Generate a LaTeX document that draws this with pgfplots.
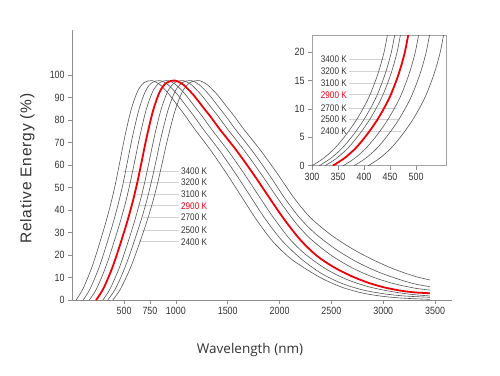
\documentclass[border=0pt]{standalone}
\usepackage{fontspec}
\setmainfont{Open Sans}
\newfontfamily\narrow[FakeStretch=0.85]{Liberation Sans}
\newfontfamily\ylabfont[LetterSpace=5]{Liberation Sans}
\usepackage{pgfplots}
\pgfplotsset{compat=1.18}
\definecolor{crv}{HTML}{555555}
\definecolor{axc}{HTML}{8C8C8C}
\definecolor{ldr}{HTML}{D2D2D2}
\definecolor{txt}{HTML}{333333}
\definecolor{myred}{HTML}{E8000B}
\tikzset{lab/.style={font=\narrow\fontsize{9.6}{11}\selectfont, text=txt, anchor=west, inner sep=0pt}}
\pgfplotsset{
  every axis/.append style={
    /pgf/number format/assume math mode=true,
    /pgf/number format/1000 sep={},
    ticklabel style={font=\narrow\fontsize{10.5}{12}\selectfont, text=txt},
    tick style={axc, line width=0.7pt},
    tick align=outside, major tick length=4pt,
  },
  gcurve/.style={crv, line width=0.6pt, smooth, tension=0.5},
  rcurve/.style={myred, line width=1.8pt, smooth, tension=0.5},
}
\begin{document}
\begin{tikzpicture}[x=1pt,y=1pt]
\path[use as bounding box] (0,0) rectangle (500,375);
% ---------------- main axis
\begin{axis}[
  at={(72.2pt,75pt)}, anchor=south west, scale only axis,
  width=380pt, height=270pt,
  xmin=0, xmax=3665, ymin=0, ymax=120,
  axis x line*=bottom, axis y line*=left,
  axis line style={axc, line width=0.8pt, -},
  xtick={500,750,1000,1500,2000,2500,3000,3500},
  ytick={0,10,20,30,40,50,60,70,80,90,100},
  clip=false,
]
% leader lines
\draw[ldr, line width=0.7pt] (axis cs:490,57.3) -- (axis cs:1030,57.3);
\draw[ldr, line width=0.7pt] (axis cs:500,52.3) -- (axis cs:1030,52.3);
\draw[ldr, line width=0.7pt] (axis cs:625,47.1) -- (axis cs:1030,47.1);
\draw[ldr, line width=0.7pt] (axis cs:630,41.9) -- (axis cs:1030,41.9);
\draw[ldr, line width=0.7pt] (axis cs:683,36.6) -- (axis cs:1030,36.6);
\draw[ldr, line width=0.7pt] (axis cs:673,31.1) -- (axis cs:1030,31.1);
\draw[ldr, line width=0.7pt] (axis cs:640,25.9) -- (axis cs:1030,25.9);
\node[lab] at (axis cs:1049,57.3) {3400 K};
\node[lab] at (axis cs:1049,52.3) {3200 K};
\node[lab] at (axis cs:1049,47.1) {3100 K};
\node[lab, text=myred] at (axis cs:1049,41.9) {2900 K};
\node[lab] at (axis cs:1049,36.6) {2700 K};
\node[lab] at (axis cs:1049,31.1) {2500 K};
\node[lab] at (axis cs:1049,25.9) {2400 K};
% 3400 K
\addplot[gcurve] coordinates {(37,0)(104,5)(197,15.5)(305,31.5)(368,42)(414,51)(460,61.5)(507,72.5)(568,84.5)(631,92.8)(693,96.6)(770,97.5)(847,95.7)(938,91.2)(1031,85.5)(1092,81.8)(1184,75.8)(1339,66.3)(1492,56)(1646,45)(1768,36.3)(1922,26.7)(2076,19.6)(2200,15.4)(2400,9.8)(2600,5.7)(2800,3.1)(3000,1.6)(3200,0.8)(3450,0.3)};
% 3200 K
\addplot[gcurve] coordinates {(105,0)(173,5)(267,15.5)(377,31.5)(440,42)(487,51)(533,61.5)(581,72.5)(643,84.5)(706,92.8)(769,96.6)(847,97.5)(924,95.7)(1017,91.2)(1111,85.5)(1173,81.8)(1266,75.8)(1423,66.3)(1578,56)(1734,45)(1858,36.3)(2014,26.9)(2200,18.6)(2400,11.9)(2600,7.4)(2800,4.5)(3000,2.8)(3200,1.8)(3450,1.2)};
% 3100 K
\addplot[gcurve] coordinates {(165,0)(235,5)(330,15.5)(442,31.5)(507,42)(554,51)(602,61.5)(651,72.5)(713,84.5)(778,92.8)(843,96.6)(922,97.5)(1000,95.7)(1094,91.2)(1189,85.5)(1252,81.8)(1345,75.8)(1504,66.3)(1660,56)(1818,45)(1943,36.5)(2100,27)(2250,20.3)(2450,13.7)(2650,9.1)(2850,6.0)(3050,4.0)(3250,2.6)(3450,1.8)};
% 2700 K
\addplot[gcurve] coordinates {(295,0)(366,5)(464,15.5)(578,31.5)(644,42)(693,51)(742,61.5)(792,72.5)(856,84.5)(922,92.8)(988,96.6)(1069,97.5)(1149,95.7)(1244,91.2)(1341,85.5)(1405,81.8)(1501,75.8)(1662,66.3)(1822,56)(1982,45.2)(2150,34.6)(2300,27.1)(2500,19.8)(2700,14.3)(2900,10.2)(3100,7.3)(3300,5.3)(3450,4.4)};
% 2500 K
\addplot[gcurve] coordinates {(343,0)(417,5)(518,15.5)(637,31.5)(706,42)(756,51)(807,61.5)(858,72.5)(925,84.5)(993,92.8)(1062,96.6)(1146,97.5)(1225,95.7)(1321,91.2)(1417,85.5)(1480,81.8)(1575,75.8)(1736,66.3)(1895,56)(2054,45)(2200,36.2)(2350,29.3)(2550,22.3)(2750,16.8)(2950,12.5)(3150,9.2)(3300,7.2)(3450,5.9)};
% 2400 K
\addplot[gcurve] coordinates {(391,0)(467,5)(572,15.5)(696,31.5)(767,42)(819,51)(871,61.5)(925,72.5)(994,84.5)(1065,92.8)(1136,96.6)(1223,97.5)(1303,95.7)(1400,91.2)(1497,85.5)(1561,81.8)(1657,75.8)(1820,66.3)(1981,56)(2142,45.2)(2300,36.5)(2500,28.8)(2700,22.8)(2900,17.9)(3100,13.8)(3300,10.6)(3450,8.9)};
% 2900 K (red)
\addplot[rcurve] coordinates {(230,0)(300,5)(396,15.5)(509,31.5)(574,42)(622,51)(670,61.5)(719,72.5)(782,84.5)(847,92.8)(912,96.6)(992,97.5)(1072,95.7)(1168,91.2)(1265,85.5)(1329,81.8)(1425,75.8)(1587,66.3)(1747,56)(1908,45)(2036,36.4)(2197,26.9)(2358,19.7)(2519,14.7)(2680,10.9)(2841,7.9)(3001,5.7)(3162,4.2)(3300,3.4)(3450,3.0)};
\node[rotate=90, font=\ylabfont\fontsize{15.5}{18}\selectfont, text=txt] at (axis description cs:-0.118,0.487) {Relative Energy (\%)};
\node[font=\fontsize{13.5}{16}\selectfont, text=txt] at (axis description cs:0.468,-0.185) {Wavelength (nm)};
\end{axis}
% ---------------- inset
\begin{axis}[
  at={(312pt,209.3pt)}, anchor=south west, scale only axis,
  width=134.7pt, height=130pt,
  xmin=300, xmax=559, ymin=0, ymax=22.93,
  axis line style={axc!80, line width=0.7pt},
  tick pos=left,
  xtick={300,350,400,450,500},
  ytick={0,5,10,15,20},
]
\draw[ldr, line width=0.7pt] (axis cs:372,18.8) -- (axis cs:443,18.8);
\draw[ldr, line width=0.7pt] (axis cs:372,16.6) -- (axis cs:450,16.6);
\draw[ldr, line width=0.7pt] (axis cs:372,14.5) -- (axis cs:453,14.5);
\draw[ldr, line width=0.7pt] (axis cs:372,12.5) -- (axis cs:456,12.5);
\draw[ldr, line width=0.7pt] (axis cs:372,10.2) -- (axis cs:463,10.2);
\draw[ldr, line width=0.7pt] (axis cs:372,8.2) -- (axis cs:466,8.2);
\draw[ldr, line width=0.7pt] (axis cs:372,6.1) -- (axis cs:472,6.1);
\node[lab] at (axis cs:316.7,18.8) {3400 K};
\node[lab] at (axis cs:316.7,16.6) {3200 K};
\node[lab] at (axis cs:316.7,14.5) {3100 K};
\node[lab, text=myred] at (axis cs:316.7,12.5) {2900 K};
\node[lab] at (axis cs:316.7,10.2) {2700 K};
\node[lab] at (axis cs:316.7,8.2) {2500 K};
\node[lab] at (axis cs:316.7,6.1) {2400 K};
\addplot[gcurve] coordinates {(300,0)(322,1.3)(344,3.1)(365,5.4)(387,8.3)(409,12)(426,16)(438,19.8)(445,23)(452,25.5)};
\addplot[gcurve] coordinates {(314,0)(336,1.3)(358,3.1)(379,5.4)(401,8.3)(423,12)(440,16)(452,19.8)(459,23)(466,25.5)};
\addplot[gcurve] coordinates {(325,0)(347,1.3)(369,3.1)(390,5.4)(412,8.3)(434,12)(451,16)(463,19.8)(470,23)(477,25.5)};
\addplot[gcurve] coordinates {(360,0)(382,1.3)(404,3.1)(425,5.4)(447,8.3)(469,12)(486,16)(498,19.8)(505,23)(512,25.5)};
\addplot[gcurve] coordinates {(381,0)(403,1.3)(425,3.1)(446,5.4)(468,8.3)(490,12)(507,16)(519,19.8)(526,23)(533,25.5)};
\addplot[gcurve] coordinates {(408,0)(430,1.3)(452,3.1)(473,5.4)(495,8.3)(517,12)(534,16)(546,19.8)(553,23)(560,25.5)};
\addplot[rcurve] coordinates {(340,0)(362,1.3)(384,3.1)(405,5.4)(427,8.3)(449,12)(466,16)(478,19.8)(485,23)(492,25.5)};
\end{axis}
\end{tikzpicture}
\end{document}
